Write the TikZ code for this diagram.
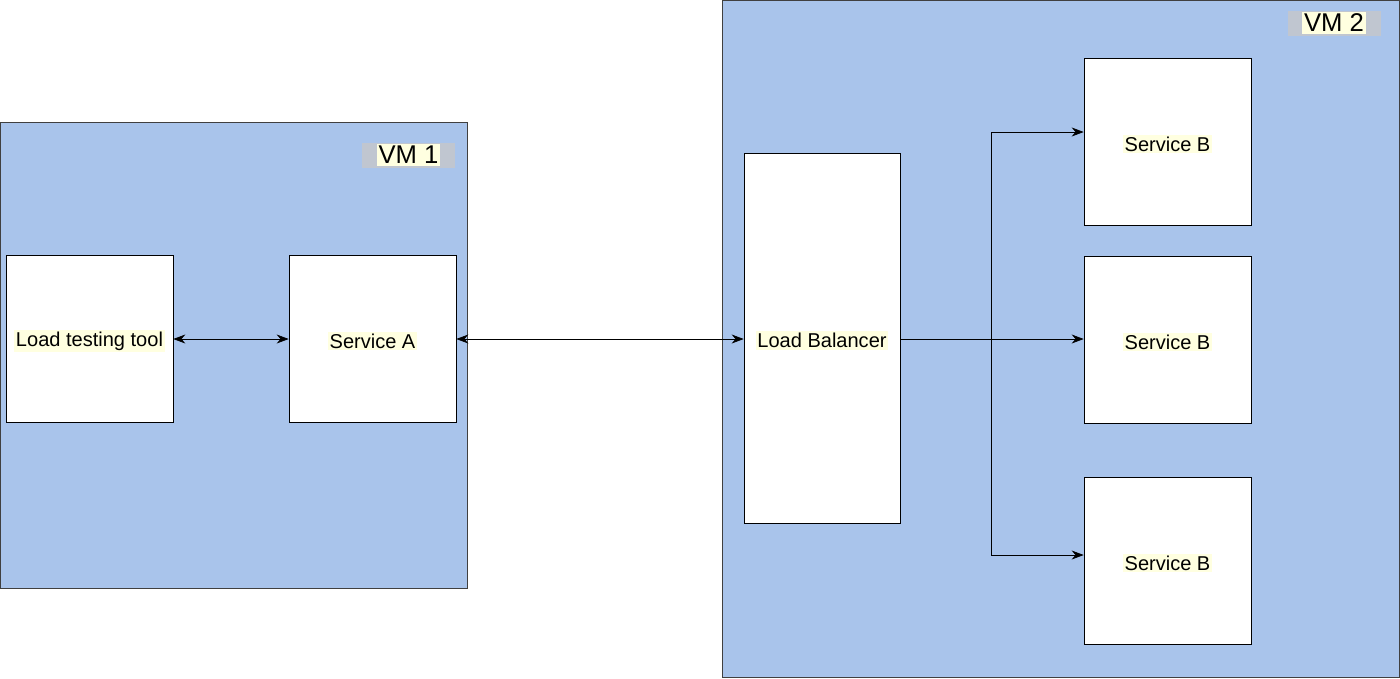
\documentclass[tikz,border=0pt]{standalone}
\usepackage{fontspec}
\setmainfont{Liberation Sans}
\usepackage{xcolor}
\usepackage{tikz}
\usetikzlibrary{arrows.meta}

\definecolor{vmblue}{HTML}{A9C4EB}
\definecolor{vmgray}{RGB}{192,198,208}
\definecolor{lblyellow}{HTML}{FFFFE0}

\begin{document}
\begin{tikzpicture}[
    >={Stealth[length=2.4mm,width=1.8mm]},
    vm/.style={draw=black!75, fill=vmblue},
    box/.style={draw=black, fill=white, minimum width=3.34cm, minimum height=3.34cm, inner sep=0pt},
    txt/.style={fill=lblyellow, inner sep=1pt, yshift=-0.05cm, font=\fontsize{11.4}{13}\selectfont},
    vmtag/.style={fill=vmgray, minimum width=1.86cm, minimum height=0.5cm, inner sep=0pt},
    vmtxt/.style={fill=lblyellow, inner sep=1pt, font=\fontsize{14.6}{16}\selectfont}
]
    \useasboundingbox (0,0) rectangle (28,-13.56);

    % Maquinas virtuais
    \draw[vm] (0.01,-2.44) rectangle (9.34,-11.76);
    \draw[vm] (14.45,-0.01) rectangle (27.99,-13.55);

    \node[vmtag] (vm1tag) at (8.17,-3.1) {};
    \node[vmtxt] (vm1) at (vm1tag) {VM 1};
    \node[vmtag] (vm2tag) at (26.68,-0.46) {};
    \node[vmtxt] (vm2) at (vm2tag) {VM 2};

    % Componentes
    \node[box] (ltt) at (1.79,-6.77) {};
    \node[txt] at (ltt) {Load testing tool};
    \node[box] (svca) at (7.45,-6.77) {};
    \node[txt] at (svca) {Service A};

    \node[box, minimum width=3.12cm, minimum height=7.4cm] (lb) at (16.44,-6.76) {};
    \node[txt] at (lb) {Load Balancer};

    \node[box] (svcb1) at (23.35,-2.83) {};
    \node[txt] at (svcb1) {Service B};
    \node[box] (svcb2) at (23.35,-6.79) {};
    \node[txt] at (svcb2) {Service B};
    \node[box] (svcb3) at (23.35,-11.21) {};
    \node[txt] at (svcb3) {Service B};

    % Ligacoes
    \coordinate (split) at (19.82,-6.78);
    \draw[<->] (ltt.east |- 0,-6.78) -- (svca.west |- 0,-6.78);
    \draw[<->] (svca.east |- 0,-6.78) -- (lb.west |- 0,-6.78);
    \draw[->] (lb.east |- 0,-6.78) -- (svcb2.west |- 0,-6.78);
    \draw[->] (split) |- ([yshift=0.19cm]svcb1.west);
    \draw[->] (split) |- ([yshift=0.11cm]svcb3.west);
\end{tikzpicture}
\end{document}
